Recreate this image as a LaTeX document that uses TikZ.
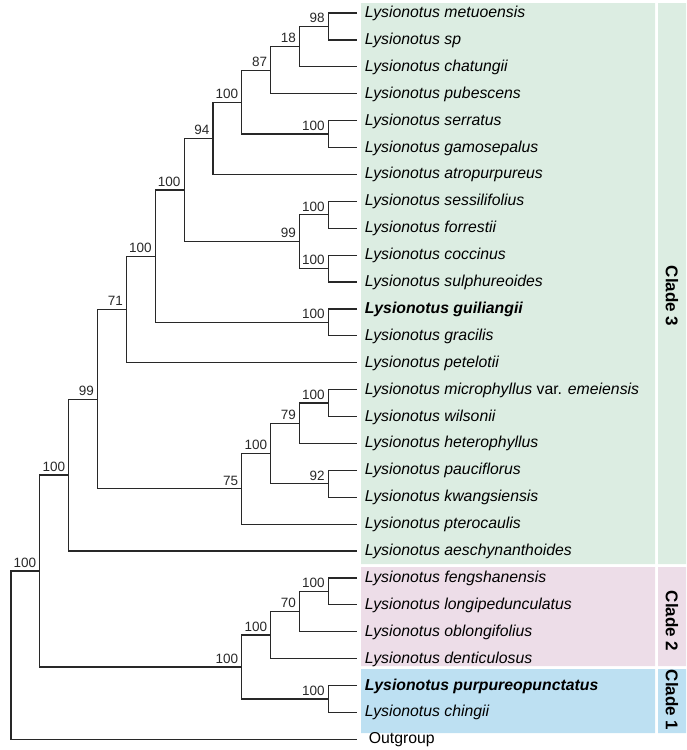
\documentclass[tikz,border=0pt]{standalone}
\usepackage{fontspec}
\setmainfont{Liberation Sans}
\usepackage{tikz}
\usetikzlibrary{positioning}
\definecolor{cladethree}{RGB}{220,237,226}
\definecolor{cladetwo}{RGB}{237,221,232}
\definecolor{cladeone}{RGB}{189,224,242}
\definecolor{branch}{RGB}{40,40,40}

\begin{document}
\begin{tikzpicture}[x=1pt, y=-1pt, line width=1.2pt,
    leaf/.style={anchor=west, inner xsep=7pt, inner ysep=0pt, text height=11pt, text depth=2pt,
        font=\fontsize{15.8}{18}\selectfont\itshape},
    boot/.style={anchor=south east, inner sep=0pt, xshift=-3pt, yshift=3pt,
        font=\fontsize{13.5}{15}\selectfont, text=branch},
    clade/.style={rotate=-90, inner sep=0pt, font=\fontsize{17}{20}\selectfont\bfseries}]
    \useasboundingbox (0,0) rectangle (687,750);
    % Clade boxes
    \fill[cladethree] (361,3) rectangle (655,564) (658,3) rectangle (686,564);
    \fill[cladetwo] (361,567) rectangle (655,666) (658,567) rectangle (686,666);
    \fill[cladeone] (361,669) rectangle (655,733) (658,669) rectangle (686,733);
    \node[clade] (C3) at (672,296) {Clade 3};
    \node[clade] (C2) at (672,621) {Clade 2};
    \node[clade] (C1) at (672,700) {Clade 1};

    % Taxa
    \foreach \txt [count=\i] in {Lysionotus metuoensis, Lysionotus sp, Lysionotus chatungii,
        Lysionotus pubescens, Lysionotus serratus, Lysionotus gamosepalus, Lysionotus atropurpureus,
        Lysionotus sessilifolius, Lysionotus forrestii, Lysionotus coccinus, Lysionotus sulphureoides,
        {\bfseries Lysionotus guiliangii}, Lysionotus gracilis, Lysionotus petelotii,
        {Lysionotus microphyllus \upshape var. \itshape emeiensis}, Lysionotus wilsonii,
        Lysionotus heterophyllus, Lysionotus pauciflorus, Lysionotus kwangsiensis,
        Lysionotus pterocaulis, Lysionotus aeschynanthoides, Lysionotus fengshanensis,
        Lysionotus longipedunculatus, Lysionotus oblongifolius, Lysionotus denticulosus,
        {\bfseries Lysionotus purpureopunctatus}, Lysionotus chingii}
        \node[leaf] (l\i) at (357.2, {13+26.9*(\i-1)}) {\txt};
    \node[leaf, inner xsep=11pt, font=\fontsize{15.8}{18}\selectfont] (og) at (357.2, 739.3) {Outgroup};

    % Internal nodes
    \coordinate (na) at (328.35, 26.45);
    \coordinate (nb) at (299.5, 46.63);
    \coordinate (nc) at (270.65, 70.16);
    \coordinate (nd) at (328.35, 134.05);
    \coordinate (ne) at (241.8, 102.1);
    \coordinate (nf) at (212.95, 138.25);
    \coordinate (ng) at (328.35, 214.75);
    \coordinate (nh) at (328.35, 268.55);
    \coordinate (ni) at (299.5, 241.65);
    \coordinate (nj) at (184.1, 189.95);
    \coordinate (nk) at (328.35, 322.35);
    \coordinate (nm) at (155.25, 256.15);
    \coordinate (nn) at (126.4, 309.4);
    \coordinate (no) at (328.35, 403.05);
    \coordinate (np) at (299.5, 423.2);
    \coordinate (nq) at (328.35, 483.75);
    \coordinate (nr) at (270.65, 453.5);
    \coordinate (ns) at (241.8, 488.8);
    \coordinate (nt) at (97.55, 399.1);
    \coordinate (nu) at (68.7, 475.05);
    \coordinate (nv) at (328.35, 591.35);
    \coordinate (nw) at (299.5, 611.5);
    \coordinate (nx) at (270.65, 635.05);
    \coordinate (ny) at (328.35, 698.95);
    \coordinate (nz) at (241.8, 667);
    \coordinate (root) at (39.85, 571);
    \coordinate (base) at (11, 655.15);

    \begin{scope}[draw=branch]
    \draw (l1.west) -| (na) |- (l2.west);
    \draw (na) -| (nb) |- (l3.west);
    \draw (nb) -| (nc) |- (l4.west);
    \draw (l5.west) -| (nd) |- (l6.west);
    \draw (nc) -| (ne) |- (nd);
    \draw (ne) -| (nf) |- (l7.west);
    \draw (l8.west) -| (ng) |- (l9.west);
    \draw (l10.west) -| (nh) |- (l11.west);
    \draw (ng) -| (ni) |- (nh);
    \draw (nf) -| (nj) |- (ni);
    \draw (l12.west) -| (nk) |- (l13.west);
    \draw (nj) -| (nm) |- (nk);
    \draw (nm) -| (nn) |- (l14.west);
    \draw (l15.west) -| (no) |- (l16.west);
    \draw (no) -| (np) |- (l17.west);
    \draw (l18.west) -| (nq) |- (l19.west);
    \draw (np) -| (nr) |- (nq);
    \draw (nr) -| (ns) |- (l20.west);
    \draw (nn) -| (nt) |- (ns);
    \draw (nt) -| (nu) |- (l21.west);
    \draw (l22.west) -| (nv) |- (l23.west);
    \draw (nv) -| (nw) |- (l24.west);
    \draw (nw) -| (nx) |- (l25.west);
    \draw (l26.west) -| (ny) |- (l27.west);
    \draw (nx) -| (nz) |- (ny);
    \draw (nu) -| (root) |- (nz);
    \draw (root) -| (base) |- (og.west);
    \end{scope}

    % Support values
    \foreach \n/\v in {na/98, nb/18, nc/87, nd/100, ne/100, nf/94, ng/100, nh/100, ni/99, nj/100,
        nk/100, nm/100, nn/71, no/100, np/79, nq/92, nr/100, ns/75, nt/99, nu/100,
        nv/100, nw/70, nx/100, ny/100, nz/100, root/100}
        \node[boot] (b\n) at (\n) {\v};
\end{tikzpicture}
\end{document}
